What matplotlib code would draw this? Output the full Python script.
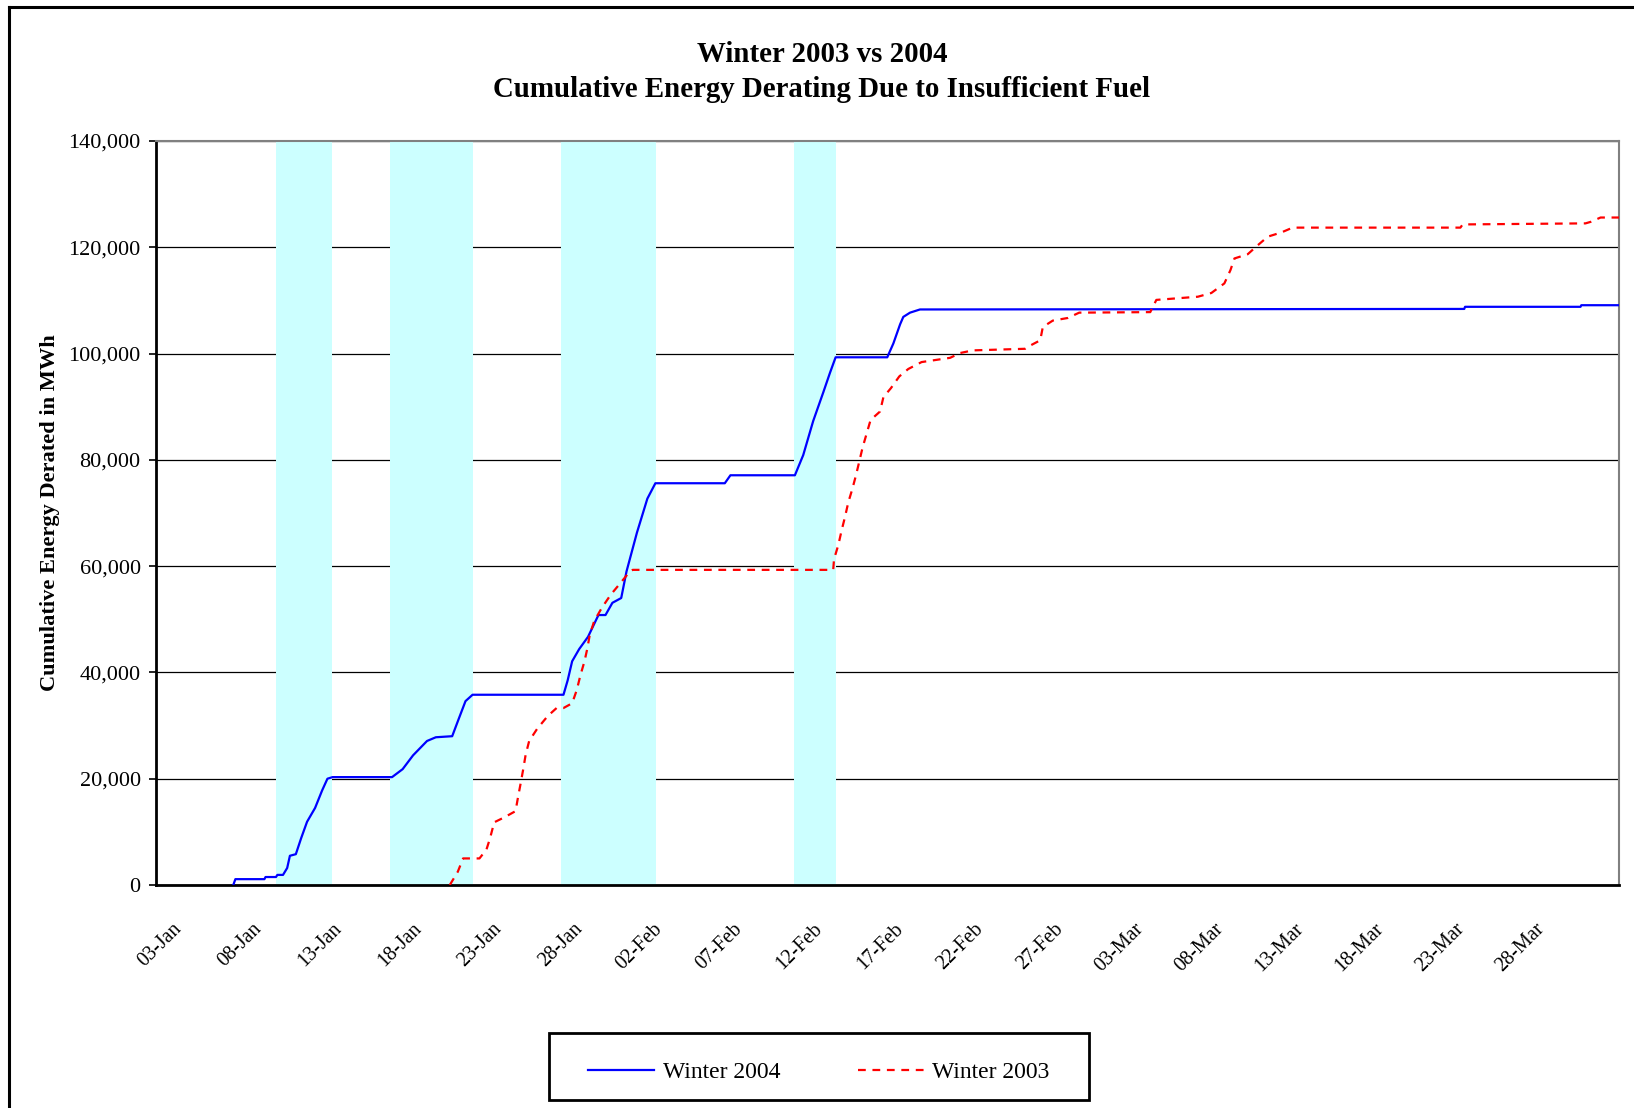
import matplotlib
matplotlib.use("Agg")
from matplotlib import pyplot as plt
from matplotlib import transforms
from matplotlib.lines import Line2D
from matplotlib.patches import Rectangle

# day of year 2004 (01-Jan = 1), cumulative MWh
w04_day = [6.84, 6.97, 8.78, 8.85, 9.5, 9.59, 9.94, 10.2, 10.37, 10.74, 11.07, 11.44,
           11.94, 12.38, 12.71, 13.03, 16.74, 17.4, 18.05, 18.92, 19.47, 20.49, 20.89,
           21.32, 21.76, 27.43, 27.69, 27.97, 28.41, 28.96, 29.61, 30.05, 30.48, 31.03,
           31.36, 32.01, 32.66, 33.16, 37.49, 37.84, 41.86, 42.38, 43.0, 43.63, 44.05,
           44.4, 47.62, 48.0, 48.42, 48.62, 49.04, 49.66, 83.6, 83.65, 90.85, 90.9, 93.25]
w04_mwh = [0, 1100, 1100, 1500, 1500, 1900, 1900, 3200, 5500, 5800, 8800, 11900,
           14500, 17800, 20000, 20300, 20300, 21800, 24400, 27100, 27800, 28000, 31200,
           34600, 35800, 35800, 38500, 42100, 44400, 46700, 50800, 50800, 53100, 54000,
           59000, 66300, 72700, 75600, 75600, 77100, 77100, 80900, 87300, 92700, 96400,
           99300, 99300, 101900, 105500, 106900, 107700, 108300, 108400, 108800, 108800,
           109100, 109100]

w03_day = [20.34, 20.84, 21.17, 22.19, 22.63, 22.85, 23.11, 23.72, 24.44, 24.6, 24.77,
           24.92, 25.07, 25.29, 25.79, 26.45, 27.0, 27.43, 27.97, 28.26, 28.48, 28.74,
           28.91, 29.07, 29.35, 29.83, 30.37, 31.03, 31.57, 31.75, 44.25, 44.3, 44.57,
           44.78, 44.98, 45.19, 45.44, 45.67, 45.86, 46.08, 46.34, 46.58, 47.17, 47.38,
           47.85, 48.37, 48.93, 49.76, 51.54, 52.16, 52.95, 56.22, 56.47, 57.16, 57.32,
           57.94, 58.88, 59.59, 64.02, 64.4, 65.27, 66.99, 67.83, 68.64, 69.02, 69.27,
           70.1, 70.73, 71.35, 72.2, 72.9, 83.36, 83.5, 91.16, 91.5, 92.1, 93.25]
w03_mwh = [0, 2500, 5000, 5000, 6700, 8800, 11800, 12700, 13900, 16600, 19300,
           21800, 24500, 27100, 29400, 31800, 33300, 33300, 34200, 36700, 39400, 42100,
           44400, 47100, 49700, 52200, 54600, 57000, 59000, 59300, 59300, 61300, 64000,
           66800, 69200, 72000, 74500, 77100, 79500, 82300, 85000, 87500, 89100, 91800,
           93500, 95700, 97100, 98400, 99200, 100100, 100600, 100900, 101400, 102500, 105000,
           106200, 106700, 107700, 107800, 110100, 110300, 110700, 111400, 113200, 115700, 117900,
           118700, 120400, 122000, 122800, 123700, 123700, 124300, 124500, 124800, 125600, 125600]

# shaded periods (day of year)
band_start = [9.5, 16.6, 27.3, 41.8]
band_end = [13.0, 21.8, 33.2, 44.4]

tick_day = [3, 8, 13, 18, 23, 28, 33, 38, 43, 48, 53, 58, 63, 68, 73, 78, 83, 88]
tick_label = ["03-Jan", "08-Jan", "13-Jan", "18-Jan", "23-Jan", "28-Jan", "02-Feb",
              "07-Feb", "12-Feb", "17-Feb", "22-Feb", "27-Feb", "03-Mar", "08-Mar",
              "13-Mar", "18-Mar", "23-Mar", "28-Mar"]
y_ticks = [0, 20000, 40000, 60000, 80000, 100000, 120000, 140000]

plt.rcParams["font.family"] = ["Liberation Serif", "DejaVu Serif"]

W, H = 1634, 1108
fig = plt.figure(figsize=(W / 100, H / 100), dpi=100)
ax = fig.add_axes([156 / W, 1 - 885 / H, (1619 - 156) / W, (885 - 141) / H])

for s, e in zip(band_start, band_end):
    ax.axvspan(s, e, color="#ccffff", lw=0, zorder=1)

ax.plot(w04_day, w04_mwh, color="#0000ff", lw=1.6, label="Winter 2004", zorder=3)
ax.plot(w03_day, w03_mwh, color="#ff0000", lw=1.6, ls=(0, (3.5, 3)), label="Winter 2003", zorder=3)

ax.set_xlim(2.02, 93.25)
ax.set_ylim(0, 140000)
ax.set_yticks(y_ticks)
ax.set_yticklabels([f"{v:,}" for v in y_ticks], fontsize=16)
ax.set_xticks(tick_day)
ax.set_xticklabels(tick_label, fontsize=14.5, rotation=45, ha="right", va="top",
                   rotation_mode="anchor")
shift = transforms.ScaledTranslation(9 / 100, 0, fig.dpi_scale_trans)
for lab in ax.get_xticklabels():
    lab.set_transform(lab.get_transform() + shift)

ax.tick_params(axis="x", length=0, pad=25)
ax.tick_params(axis="y", direction="out", length=5, width=1.2, pad=6)
ax.yaxis.grid(True, color="black", lw=0.9, zorder=0.5)
ax.set_axisbelow(True)

for side in ["top", "right"]:
    ax.spines[side].set_color("#808080")
    ax.spines[side].set_linewidth(1.5)
for side in ["left", "bottom"]:
    ax.spines[side].set_color("black")
    ax.spines[side].set_linewidth(2)

fig.text(822 / W, 1 - 72 / H, "Winter 2003 vs 2004\nCumulative Energy Derating Due to Insufficient Fuel",
         ha="center", va="center", fontsize=20.8, fontweight="bold", linespacing=1.35)
fig.text(50 / W, 1 - 513 / H, "Cumulative Energy Derated in MWh", rotation=90,
         ha="center", va="center", fontsize=16.1, fontweight="bold")

leg = fig.legend(loc="center", bbox_to_anchor=(819 / W, 1 - 1072 / H), ncol=2,
                 fontsize=17, frameon=False,
                 handlelength=2.8, handletextpad=0.35, columnspacing=3.3)
# legend box drawn separately to get Excel's wide side padding
fig.add_artist(Rectangle((549 / W, 1 - 1100 / H), (1089 - 549) / W, (1100 - 1033) / H,
                         transform=fig.transFigure, fill=False, edgecolor="black", lw=2))

# outer chart-area frame (only left and top edges are visible)
fig.add_artist(Line2D([9 / W, 9 / W], [0, 1 - 7 / H], transform=fig.transFigure, color="black", lw=2.2))
fig.add_artist(Line2D([9 / W, 1], [1 - 7 / H, 1 - 7 / H], transform=fig.transFigure, color="black", lw=2.2))

fig.savefig("out.png", dpi=100)
